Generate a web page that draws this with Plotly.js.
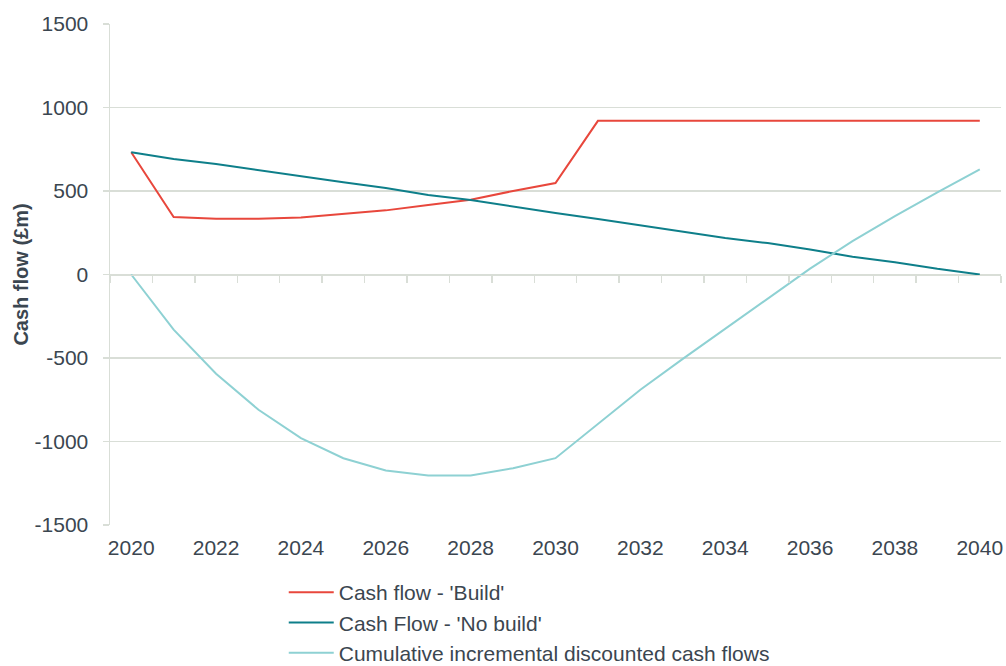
<!DOCTYPE html>
<html>
<head>
<meta charset="utf-8">
<script src="https://cdn.plot.ly/plotly-3.0.1.min.js"></script>
<style>html,body{margin:0;padding:0;background:#fff;}#chart{width:1006px;height:666px;}</style>
</head>
<body>
<div id="chart"></div>
<script>
const years = [2020,2021,2022,2023,2024,2025,2026,2027,2028,2029,2030,2031,2032,2033,2034,2035,2036,2037,2038,2039,2040];
const cashBuild = [732,344,334,334,342,364,384,416,448,500,548,920,920,920,920,920,920,920,920,920,920];
const cashNoBuild = [732,692,662,624,590,552,518,476,446,406,368,332,294,260,218,188,150,106,74,34,0];
const cumulative = [0,-330,-594,-810,-980,-1100,-1174,-1204,-1204,-1160,-1100,-895,-690,-505,-325,-148,35,200,350,492,630];
const seriesNames = ["Cash flow - 'Build'", "Cash Flow - 'No build'", "Cumulative incremental discounted cash flows"];
const xTickLabels = ["2020","2022","2024","2026","2028","2030","2032","2034","2036","2038","2040"];
const yTickLabels = ["-1500","-1000","-500","0","500","1000","1500"];

const textColor = '#3B4650';
const gridColor = '#D9DED7';
const font = 'Arial, "Liberation Sans", sans-serif';

const xTickVals = xTickLabels.map(Number);
const yTickVals = yTickLabels.map(Number);
const boundaryTicks = years.map(y => y - 0.5).concat([years[years.length-1] + 0.5]);

const traces = [
  {x: years, y: cashBuild, name: seriesNames[0], type: 'scatter', mode: 'lines', line: {color: '#E8473C', width: 2}},
  {x: years, y: cashNoBuild, name: seriesNames[1], type: 'scatter', mode: 'lines', line: {color: '#0E7F8A', width: 2}},
  {x: years, y: cumulative, name: seriesNames[2], type: 'scatter', mode: 'lines', line: {color: '#8ED1D3', width: 2}},
  {x: [], y: [], xaxis: 'x2', showlegend: false, hoverinfo: 'skip', type: 'scatter', mode: 'lines'}
];

const xr = [years[0] - 0.5, years[years.length-1] + 0.5];

const layout = {
  width: 1006, height: 666,
  margin: {l: 110, r: 5, t: 24, b: 141, autoexpand: false},
  paper_bgcolor: '#fff', plot_bgcolor: '#fff',
  font: {family: font, color: textColor, size: 21},
  showlegend: true,
  legend: {
    orientation: 'v', x: 0.195, xanchor: 'left', y: -0.094, yanchor: 'top',
    font: {family: font, size: 21, color: textColor},
    itemwidth: 45, bgcolor: 'rgba(0,0,0,0)', traceorder: 'normal'
  },
  xaxis: {
    range: xr, anchor: 'free', position: 0.5,
    tickmode: 'array', tickvals: boundaryTicks, ticks: 'outside', ticklen: 7, tickwidth: 1.5, tickcolor: gridColor,
    showticklabels: false, showgrid: false, zeroline: false,
    showline: true, linecolor: gridColor, linewidth: 1.5, fixedrange: true
  },
  xaxis2: {
    range: xr, overlaying: 'x', anchor: 'y', side: 'bottom',
    tickmode: 'array', tickvals: xTickVals, ticktext: xTickLabels, ticks: '',
    ticklabelstandoff: 8,
    tickfont: {family: font, size: 21, color: textColor},
    showgrid: false, zeroline: false, showline: false, fixedrange: true
  },
  yaxis: {
    range: [-1500, 1500], tickmode: 'array', tickvals: yTickVals, ticktext: yTickLabels,
    ticks: 'outside', ticklen: 6, tickwidth: 1.5, tickcolor: gridColor,
    ticklabelstandoff: 10,
    tickfont: {family: font, size: 21, color: textColor},
    showgrid: true, gridcolor: gridColor, gridwidth: 1.5,
    zeroline: false, showline: true, linecolor: gridColor, linewidth: 1.5,
    title: {text: 'Cash flow (£m)', font: {family: font, size: 20, color: textColor, weight: 'bold'}, standoff: 0},
    fixedrange: true
  }
};

Plotly.newPlot('chart', traces, layout, {displayModeBar: false, staticPlot: true});
</script>
</body>
</html>
